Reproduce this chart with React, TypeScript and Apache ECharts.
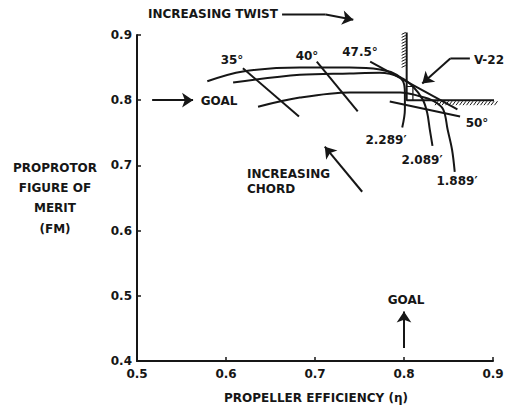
import React, { useEffect, useRef } from "react";
import * as echarts from "echarts";

// Chord curves (propeller efficiency, figure of merit)
const chord2289X = [0.579, 0.619, 0.683, 0.739, 0.773, 0.792, 0.799, 0.801, 0.801, 0.798];
const chord2289Y = [0.829, 0.844, 0.850, 0.850, 0.847, 0.839, 0.829, 0.812, 0.786, 0.758];
const chord2089X = [0.608, 0.683, 0.739, 0.773, 0.796, 0.810, 0.821, 0.826, 0.829, 0.832];
const chord2089Y = [0.827, 0.839, 0.841, 0.842, 0.835, 0.821, 0.801, 0.781, 0.755, 0.730];
const chord1889X = [0.636, 0.683, 0.739, 0.796, 0.818, 0.833, 0.844, 0.849, 0.854, 0.857];
const chord1889Y = [0.790, 0.804, 0.812, 0.812, 0.806, 0.799, 0.786, 0.755, 0.724, 0.690];
const chordLabels = ["2.289\u2032", "2.089\u2032", "1.889\u2032"];

// Twist lines (start, end)
const twist35 = [[0.619, 0.849], [0.682, 0.775]];
const twist40 = [[0.702, 0.859], [0.748, 0.783]];
const twist475 = [[0.762, 0.859], [0.860, 0.786]];
const twist50 = [[0.784, 0.798], [0.863, 0.775]];
const twistLabels = ["35°", "40°", "47.5°", "50°"];

// Goal boundary and V-22 point
const goalLine = [[0.803, 0.904], [0.803, 0.8], [0.9045, 0.8]];
const hatchSegments = [
  [0.803, 0.904, 0.803, 0.853, 0],
  [0.836, 0.8, 0.9045, 0.8, 1],
];
const v22Box = [[0.803, 0.821], [0.810, 0.821], [0.810, 0.8]];

// Annotation arrows: leader (no head) and headed segments
const arrowGoalLeft = [[0.517, 0.8], [0.563, 0.8]];
const arrowGoalBottom = [[0.8, 0.42], [0.8, 0.476]];
const leaderTwist = [[0.663, 0.9315], [0.712, 0.9315]];
const arrowTwist = [[0.712, 0.9315], [0.743, 0.9235]];
const arrowChord = [[0.753, 0.6596], [0.711, 0.7287]];
const leaderV22 = [[0.874, 0.864], [0.852, 0.864]];
const arrowV22 = [[0.852, 0.864], [0.8205, 0.8255]];

const xTicks = [0.5, 0.9, 0.1];
const yTicks = [0.4, 0.9, 0.1];

const FONT = '"DejaVu Sans", sans-serif';
const INK = "#161616";

function zip(xs: number[], ys: number[]) {
  return xs.map((x, i) => [x, ys[i]]);
}

export default function App() {
  const ref = useRef<HTMLDivElement>(null);
  useEffect(() => {
    if (!ref.current) return;
    const chart = echarts.init(ref.current, null, { renderer: "svg" });
    const curve = (data: number[][], width = 2) => ({
      type: "line",
      data,
      showSymbol: false,
      symbol: "none",
      smooth: 0.35,
      clip: false,
      silent: true,
      lineStyle: { color: INK, width },
    });
    const straight = (data: number[][], width = 2) => ({
      type: "line",
      data,
      showSymbol: false,
      symbol: "none",
      clip: false,
      silent: true,
      lineStyle: { color: INK, width },
    });
    const arrows = {
      type: "lines",
      coordinateSystem: "cartesian2d",
      clip: false,
      silent: true,
      symbol: ["none", "arrow"],
      symbolSize: [7, 11],
      lineStyle: { color: INK, width: 2, opacity: 1, curveness: 0 },
      itemStyle: { color: INK },
      data: [arrowGoalLeft, arrowGoalBottom, arrowTwist, arrowChord, arrowV22].map((c) => ({ coords: c })),
    };
    const hatch = {
      type: "custom",
      clip: false,
      silent: true,
      encode: { x: [0, 2], y: [1, 3] },
      data: hatchSegments,
      renderItem: (params: any, api: any) => {
        const p1 = api.coord([api.value(0), api.value(1)]);
        const p2 = api.coord([api.value(2), api.value(3)]);
        const side = api.value(4);
        const children: any[] = [];
        const st = { stroke: INK, lineWidth: 1 };
        if (side === 0) {
          const y0 = Math.min(p1[1], p2[1]);
          const y1 = Math.max(p1[1], p2[1]);
          for (let y = y0; y <= y1; y += 3) {
            children.push({ type: "line", shape: { x1: p1[0] - 1, y1: y, x2: p1[0] - 5, y2: y + 2 }, style: st });
          }
        } else {
          const x0 = Math.min(p1[0], p2[0]);
          const x1 = Math.max(p1[0], p2[0]);
          for (let x = x0; x <= x1; x += 3.5) {
            children.push({ type: "line", shape: { x1: x + 2, y1: p1[1] + 1, x2: x - 1, y2: p1[1] + 5 }, style: st });
          }
        }
        return { type: "group", children };
      },
    };
    const txt = (text: string, x: number, y: number, align = "center") => ({
      type: "text",
      x,
      y,
      silent: true,
      style: { text, font: `bold 12px ${FONT}`, fill: INK, align, verticalAlign: "middle" },
    });
    chart.setOption({
      animation: false,
      backgroundColor: "#ffffff",
      grid: { left: 137, right: 19, top: 35, bottom: 49 },
      xAxis: {
        type: "value",
        min: xTicks[0],
        max: xTicks[1],
        interval: xTicks[2],
        splitLine: { show: false },
        axisLine: { lineStyle: { color: INK, width: 2 } },
        axisTick: { inside: true, length: 4, lineStyle: { color: INK, width: 1.5 } },
        axisLabel: { color: INK, fontFamily: FONT, fontWeight: "bold", fontSize: 12, margin: 7, formatter: (v: number) => v.toFixed(1) },
      },
      yAxis: {
        type: "value",
        min: yTicks[0],
        max: yTicks[1],
        interval: yTicks[2],
        splitLine: { show: false },
        axisLine: { show: true, lineStyle: { color: INK, width: 2 } },
        axisTick: { show: true, inside: true, length: 4, lineStyle: { color: INK, width: 1.5 } },
        axisLabel: { color: INK, fontFamily: FONT, fontWeight: "bold", fontSize: 12, margin: 5, formatter: (v: number) => v.toFixed(1) },
      },
      series: [
        curve(zip(chord2289X, chord2289Y)),
        curve(zip(chord2089X, chord2089Y)),
        curve(zip(chord1889X, chord1889Y)),
        straight(twist35),
        straight(twist40),
        straight(twist475),
        straight(twist50),
        straight(goalLine, 2),
        straight(v22Box, 1.2),
        straight(leaderTwist, 2),
        straight(leaderV22, 2),
        hatch,
        arrows,
      ],
      graphic: [
        txt("INCREASING TWIST", 148, 14, "left"),
        txt(twistLabels[0], 232, 60),
        txt(twistLabels[1], 307, 56),
        txt(twistLabels[2], 360, 52),
        txt(twistLabels[3], 477, 123),
        txt("V-22", 489, 60),
        txt("GOAL", 219, 101),
        txt(chordLabels[0], 386, 140),
        txt(chordLabels[1], 422, 160),
        txt(chordLabels[2], 457, 181),
        txt("INCREASING", 247, 174, "left"),
        txt("CHORD", 247, 189, "left"),
        txt("GOAL", 406, 300),
        txt("PROPROTOR", 55, 168),
        txt("FIGURE OF", 55, 188),
        txt("MERIT", 55, 208),
        txt("(FM)", 55, 229),
        txt("PROPELLER EFFICIENCY (\u03b7)", 316, 398),
      ],
    });
    return () => chart.dispose();
  }, []);
  return (
    <div
      ref={ref}
      style={{ position: "fixed", left: 0, top: 0, width: 512, height: 410, background: "#fff" }}
    />
  );
}
